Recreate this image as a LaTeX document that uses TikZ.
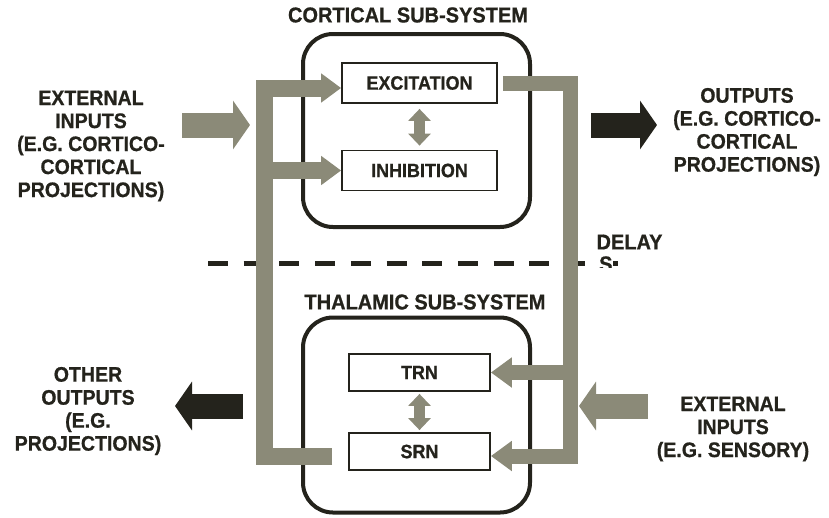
\documentclass[tikz,border=0pt]{standalone}
\usepackage{fontspec}
\setmainfont{Liberation Sans}[BoldFeatures={FakeBold=0.8,FakeStretch=0.93}]
\usetikzlibrary{arrows.meta,positioning}
\definecolor{bargray}{RGB}{139,138,120}
\definecolor{ink}{RGB}{36,35,28}

\begin{document}
\begin{tikzpicture}[x=1pt,y=-1pt,on grid,
  every node/.style={text=ink,font=\bfseries},
  sysbox/.style={draw=ink,line width=4pt,rounded corners=30pt,minimum width=227pt},
  unit/.style={draw=ink,line width=1.8pt,fill=white,minimum height=40pt,font=\bfseries\fontsize{19.3}{21}\selectfont},
  title/.style={font=\bfseries\fontsize{21.5}{24}\selectfont},
  side/.style={align=center,font=\bfseries\fontsize{21}{23}\selectfont},
  barL/.style={bargray,line width=17pt,-{Triangle[length=20pt,width=28pt]}},
  barR/.style={bargray,line width=15pt,-{Triangle[length=21pt,width=29pt]}},
  twoway/.style={bargray,line width=11pt,{Triangle[length=12pt,width=22pt]}-{Triangle[length=12pt,width=22pt]}},
  bigarrow/.style={line width=25pt,-{Triangle[length=17pt,width=48pt]}}]
\useasboundingbox (0,0) rectangle (829,517);

% sub-systems
\node[sysbox,minimum height=193pt] (ctx) at (416.5,130.5) {};
\node[sysbox,minimum height=195pt] (tha) at (416.5,415) {};
\node[title] (ctxtitle) at (408,15) {CORTICAL SUB-SYSTEM};
\node[title] (thatitle) at (425,302) {THALAMIC SUB-SYSTEM};

\node[unit,minimum width=155pt] (exc) at (419.5,83) {EXCITATION};
\node[unit,minimum width=155pt] (inh) [below=87.5pt of exc] {INHIBITION};
\node[unit,minimum width=141pt,minimum height=37pt] (trn) at (419.5,372.5) {TRN};
\node[unit,minimum width=141pt,minimum height=37pt] (srn) [below=79pt of trn] {SRN};

% delay line
\draw[ink,line width=5pt,dash pattern=on 20pt off 15.7pt] (208,263) -- (618,263);
\node[title] (delay) [anchor=west] at (593,242) {DELAY};
\begin{scope}
\clip (590,250) rectangle (630,267.5);
\node[title,fill=white,inner sep=0pt] (delays) [anchor=west] at (599,264) {S};
\end{scope}

% loops
\coordinate (lend) at (332,456);
\coordinate (lbar) at (264,456);
\coordinate (ltop) at (264,88);
\coordinate (rbar) at (570,456);
\draw[barL] (lend) -- (lbar) -- (ltop) -- (exc.west |- ltop);
\draw[barL] (inh.west -| lbar) -- (inh.west);
\draw[barR] ([xshift=5pt]exc.east) -| (rbar) -- (srn.east |- rbar);
\draw[barR] (trn.east -| rbar) -- (trn.east);
\draw[twoway,shorten <=5pt,shorten >=4pt] (exc) -- (inh);
\draw[twoway,shorten <=2pt,shorten >=2pt] (trn) -- (srn);

% inputs and outputs
\node[side] (ctxinlbl) at (91,146) {EXTERNAL\\INPUTS\\(E.G. CORTICO-\\CORTICAL\\PROJECTIONS)};
\node[side] (ctxoutlbl) at (747,132) {OUTPUTS\\(E.G. CORTICO-\\CORTICAL\\PROJECTIONS)};
\node[side] (thaoutlbl) at (88,411) {OTHER\\OUTPUTS\\(E.G.\\PROJECTIONS)};
\node[side] (thainlbl) at (733,429) {EXTERNAL\\INPUTS\\(E.G. SENSORY)};
\coordinate (ctxin) at (182,125);
\coordinate (ctxinend) at (250,125);
\coordinate (ctxout) at (591,125);
\coordinate (ctxoutend) at (657,125);
\coordinate (thaout) at (243,406);
\coordinate (thaoutend) at (175,406);
\coordinate (thain) at (648,406);
\coordinate (thainend) at (579,406);
\draw[bigarrow,bargray] (ctxin) -- (ctxinend);
\draw[bigarrow,ink] (ctxout) -- (ctxoutend);
\draw[bigarrow,ink] (thaout) -- (thaoutend);
\draw[bigarrow,bargray] (thain) -- (thainend);
\end{tikzpicture}
\end{document}
